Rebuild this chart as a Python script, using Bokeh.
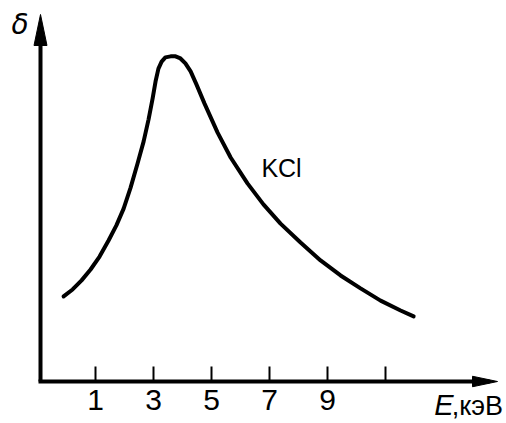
from bokeh.plotting import figure
from bokeh.models import Range1d, FixedTicker, Label
from bokeh.embed import file_html
from bokeh.resources import INLINE

# --- data (E in keV, delta in arbitrary units) ---
E = [-0.10, 0.21, 0.52, 0.83, 1.14, 1.45, 1.72, 1.97, 2.21, 2.45, 2.66, 2.83,
     2.97, 3.07, 3.17, 3.28, 3.41, 3.59, 3.76, 3.93, 4.10, 4.28, 4.48, 4.76,
     5.21, 5.66, 6.24, 6.79, 7.38, 8.07, 8.76, 9.45, 10.14, 10.83, 11.52, 11.97]
delta = [2.43, 2.63, 2.89, 3.20, 3.57, 4.03, 4.46, 4.94, 5.54, 6.23, 6.86, 7.49,
         8.09, 8.57, 8.94, 9.14, 9.26, 9.29, 9.29, 9.23, 9.09, 8.86, 8.49, 7.94,
         7.11, 6.40, 5.66, 5.06, 4.51, 3.97, 3.46, 3.03, 2.66, 2.31, 2.03, 1.86]
x_ticks = [1, 3, 5, 7, 9, 11]
x_tick_labels = {1: "1", 3: "3", 5: "5", 7: "7", 9: "9", 11: ""}
curve_label = "KCl"
y_label = "δ"
x_label_sym = "E"
x_label_unit = ",кэВ"

# axis geometry (data units)
X_ORIGIN = -0.8966     # where the vertical axis stands
X_AXIS_END = 14.586    # end of horizontal axis line
X_TIP = 14.862         # tip of horizontal arrow
X_HEAD_BASE = 14.0
Y_AXIS_END = 10.2
Y_TIP = 10.486
Y_HEAD_BASE = 9.6

FONT = "Liberation Sans"

p = figure(width=506, height=423, output_backend="svg", toolbar_location=None,
           x_range=Range1d(-2.2759, 15.172), y_range=Range1d(-1.2, 10.886),
           min_border=0)
p.outline_line_color = None
p.grid.visible = False
p.background_fill_color = "white"
p.border_fill_color = "white"

xa = p.xaxis[0]
xa.fixed_location = 0
xa.bounds = (X_ORIGIN - 0.07, X_AXIS_END)
xa.ticker = FixedTicker(ticks=x_ticks)
xa.major_label_overrides = x_tick_labels
xa.axis_line_width = 4
xa.axis_line_color = "black"
xa.major_tick_in = 15
xa.major_tick_out = 0
xa.major_tick_line_width = 2
xa.major_tick_line_color = "black"
xa.minor_tick_line_color = None
xa.major_label_text_font = FONT
xa.major_label_text_font_size = "30px"
xa.major_label_text_color = "black"
xa.major_label_standoff = 8

ya = p.yaxis[0]
ya.fixed_location = X_ORIGIN
ya.bounds = (0, Y_AXIS_END)
ya.ticker = FixedTicker(ticks=[])
ya.axis_line_width = 4
ya.axis_line_color = "black"
ya.major_tick_line_color = None
ya.minor_tick_line_color = None
ya.major_label_text_font_size = "0px"

# arrow heads
p.patch([X_ORIGIN, X_ORIGIN - 0.224, X_ORIGIN + 0.224],
        [Y_TIP, Y_HEAD_BASE, Y_HEAD_BASE],
        fill_color="black", line_color="black", line_width=1)
p.patch([X_TIP, X_HEAD_BASE, X_HEAD_BASE], [0.0, 0.15, -0.15],
        fill_color="black", line_color="black", line_width=1)

p.line(E, delta, line_width=4, line_color="black", line_join="round",
       line_cap="round")

p.add_layout(Label(x=6.72, y=5.71, text=curve_label, text_font=FONT,
                   text_font_size="25px", text_color="black"))
p.add_layout(Label(x=-1.9, y=9.72, text=y_label, text_font="DejaVu Sans",
                   text_font_style="italic", text_font_size="28px",
                   text_color="black"))
p.add_layout(Label(x=12.68, y=-1.12, text=x_label_sym, text_font=FONT,
                   text_font_style="italic", text_font_size="29px",
                   text_color="black"))
p.add_layout(Label(x=13.28, y=-1.12, text=x_label_unit, text_font=FONT,
                   text_font_size="27px", text_color="black"))

open("out.html", "w").write(file_html(p, INLINE))
